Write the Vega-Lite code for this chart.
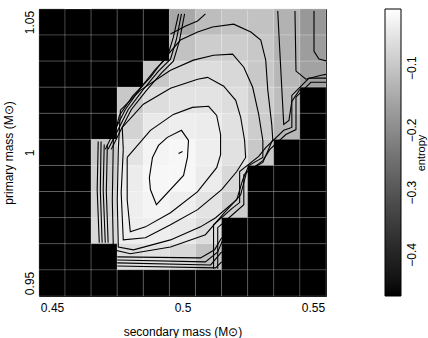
{
"$schema": "https://vega.github.io/schema/vega-lite/v6.json",
"width": 287, "height": 287,
"autosize": {"type": "none"},
"padding": {"left": 39, "top": 9, "right": 102, "bottom": 42},
"config": {"view": {"stroke": "#000", "strokeWidth": 1}, "font": "Liberation Sans"},
"datasets": {
"grid": [
{"m2":0.45,"m1":1.05,"entropy":-0.466},{"m2":0.46,"m1":1.05,"entropy":-0.466},{"m2":0.47,"m1":1.05,"entropy":-0.466},{"m2":0.48,"m1":1.05,"entropy":-0.466},{"m2":0.49,"m1":1.05,"entropy":-0.466},{"m2":0.5,"m1":1.05,"entropy":-0.150},{"m2":0.51,"m1":1.05,"entropy":-0.113},{"m2":0.52,"m1":1.05,"entropy":-0.104},{"m2":0.53,"m1":1.05,"entropy":-0.104},{"m2":0.54,"m1":1.05,"entropy":-0.132},{"m2":0.55,"m1":1.05,"entropy":-0.177},
{"m2":0.45,"m1":1.04,"entropy":-0.466},{"m2":0.46,"m1":1.04,"entropy":-0.466},{"m2":0.47,"m1":1.04,"entropy":-0.466},{"m2":0.48,"m1":1.04,"entropy":-0.466},{"m2":0.49,"m1":1.04,"entropy":-0.466},{"m2":0.5,"m1":1.04,"entropy":-0.104},{"m2":0.51,"m1":1.04,"entropy":-0.086},{"m2":0.52,"m1":1.04,"entropy":-0.086},{"m2":0.53,"m1":1.04,"entropy":-0.095},{"m2":0.54,"m1":1.04,"entropy":-0.132},{"m2":0.55,"m1":1.04,"entropy":-0.168},
{"m2":0.45,"m1":1.03,"entropy":-0.466},{"m2":0.46,"m1":1.03,"entropy":-0.466},{"m2":0.47,"m1":1.03,"entropy":-0.466},{"m2":0.48,"m1":1.03,"entropy":-0.466},{"m2":0.49,"m1":1.03,"entropy":-0.095},{"m2":0.5,"m1":1.03,"entropy":-0.068},{"m2":0.51,"m1":1.03,"entropy":-0.059},{"m2":0.52,"m1":1.03,"entropy":-0.068},{"m2":0.53,"m1":1.03,"entropy":-0.095},{"m2":0.54,"m1":1.03,"entropy":-0.123},{"m2":0.55,"m1":1.03,"entropy":-0.159},
{"m2":0.45,"m1":1.02,"entropy":-0.466},{"m2":0.46,"m1":1.02,"entropy":-0.466},{"m2":0.47,"m1":1.02,"entropy":-0.466},{"m2":0.48,"m1":1.02,"entropy":-0.095},{"m2":0.49,"m1":1.02,"entropy":-0.059},{"m2":0.5,"m1":1.02,"entropy":-0.050},{"m2":0.51,"m1":1.02,"entropy":-0.050},{"m2":0.52,"m1":1.02,"entropy":-0.059},{"m2":0.53,"m1":1.02,"entropy":-0.086},{"m2":0.54,"m1":1.02,"entropy":-0.113},{"m2":0.55,"m1":1.02,"entropy":-0.466},
{"m2":0.45,"m1":1.01,"entropy":-0.466},{"m2":0.46,"m1":1.01,"entropy":-0.466},{"m2":0.47,"m1":1.01,"entropy":-0.466},{"m2":0.48,"m1":1.01,"entropy":-0.077},{"m2":0.49,"m1":1.01,"entropy":-0.041},{"m2":0.5,"m1":1.01,"entropy":-0.032},{"m2":0.51,"m1":1.01,"entropy":-0.036},{"m2":0.52,"m1":1.01,"entropy":-0.054},{"m2":0.53,"m1":1.01,"entropy":-0.086},{"m2":0.54,"m1":1.01,"entropy":-0.123},{"m2":0.55,"m1":1.01,"entropy":-0.466},
{"m2":0.45,"m1":1.0,"entropy":-0.466},{"m2":0.46,"m1":1.0,"entropy":-0.466},{"m2":0.47,"m1":1.0,"entropy":-0.095},{"m2":0.48,"m1":1.0,"entropy":-0.050},{"m2":0.49,"m1":1.0,"entropy":-0.023},{"m2":0.5,"m1":1.0,"entropy":-0.018},{"m2":0.51,"m1":1.0,"entropy":-0.032},{"m2":0.52,"m1":1.0,"entropy":-0.054},{"m2":0.53,"m1":1.0,"entropy":-0.095},{"m2":0.54,"m1":1.0,"entropy":-0.466},{"m2":0.55,"m1":1.0,"entropy":-0.466},
{"m2":0.45,"m1":0.99,"entropy":-0.466},{"m2":0.46,"m1":0.99,"entropy":-0.466},{"m2":0.47,"m1":0.99,"entropy":-0.086},{"m2":0.48,"m1":0.99,"entropy":-0.036},{"m2":0.49,"m1":0.99,"entropy":-0.018},{"m2":0.5,"m1":0.99,"entropy":-0.018},{"m2":0.51,"m1":0.99,"entropy":-0.036},{"m2":0.52,"m1":0.99,"entropy":-0.068},{"m2":0.53,"m1":0.99,"entropy":-0.466},{"m2":0.54,"m1":0.99,"entropy":-0.466},{"m2":0.55,"m1":0.99,"entropy":-0.466},
{"m2":0.45,"m1":0.98,"entropy":-0.466},{"m2":0.46,"m1":0.98,"entropy":-0.466},{"m2":0.47,"m1":0.98,"entropy":-0.077},{"m2":0.48,"m1":0.98,"entropy":-0.032},{"m2":0.49,"m1":0.98,"entropy":-0.023},{"m2":0.5,"m1":0.98,"entropy":-0.032},{"m2":0.51,"m1":0.98,"entropy":-0.050},{"m2":0.52,"m1":0.98,"entropy":-0.086},{"m2":0.53,"m1":0.98,"entropy":-0.466},{"m2":0.54,"m1":0.98,"entropy":-0.466},{"m2":0.55,"m1":0.98,"entropy":-0.466},
{"m2":0.45,"m1":0.97,"entropy":-0.466},{"m2":0.46,"m1":0.97,"entropy":-0.466},{"m2":0.47,"m1":0.97,"entropy":-0.068},{"m2":0.48,"m1":0.97,"entropy":-0.032},{"m2":0.49,"m1":0.97,"entropy":-0.032},{"m2":0.5,"m1":0.97,"entropy":-0.041},{"m2":0.51,"m1":0.97,"entropy":-0.059},{"m2":0.52,"m1":0.97,"entropy":-0.466},{"m2":0.53,"m1":0.97,"entropy":-0.466},{"m2":0.54,"m1":0.97,"entropy":-0.466},{"m2":0.55,"m1":0.97,"entropy":-0.466},
{"m2":0.45,"m1":0.96,"entropy":-0.466},{"m2":0.46,"m1":0.96,"entropy":-0.466},{"m2":0.47,"m1":0.96,"entropy":-0.466},{"m2":0.48,"m1":0.96,"entropy":-0.059},{"m2":0.49,"m1":0.96,"entropy":-0.054},{"m2":0.5,"m1":0.96,"entropy":-0.068},{"m2":0.51,"m1":0.96,"entropy":-0.104},{"m2":0.52,"m1":0.96,"entropy":-0.466},{"m2":0.53,"m1":0.96,"entropy":-0.466},{"m2":0.54,"m1":0.96,"entropy":-0.466},{"m2":0.55,"m1":0.96,"entropy":-0.466},
{"m2":0.45,"m1":0.95,"entropy":-0.466},{"m2":0.46,"m1":0.95,"entropy":-0.466},{"m2":0.47,"m1":0.95,"entropy":-0.466},{"m2":0.48,"m1":0.95,"entropy":-0.466},{"m2":0.49,"m1":0.95,"entropy":-0.466},{"m2":0.5,"m1":0.95,"entropy":-0.466},{"m2":0.51,"m1":0.95,"entropy":-0.466},{"m2":0.52,"m1":0.95,"entropy":-0.466},{"m2":0.53,"m1":0.95,"entropy":-0.466},{"m2":0.54,"m1":0.95,"entropy":-0.466},{"m2":0.55,"m1":0.95,"entropy":-0.466}
],
"contours": [
{"c":"C1","i":0,"m2":0.4885,"m1":0.9981},{"c":"C1","i":1,"m2":0.4908,"m1":1.0027},{"c":"C1","i":2,"m2":0.4942,"m1":1.0058},{"c":"C1","i":3,"m2":0.4996,"m1":1.0085},{"c":"C1","i":4,"m2":0.5023,"m1":1.0046},{"c":"C1","i":5,"m2":0.5019,"m1":0.9981},{"c":"C1","i":6,"m2":0.5004,"m1":0.9912},{"c":"C1","i":7,"m2":0.49,"m1":0.98},{"c":"C1","i":8,"m2":0.4877,"m1":0.9858},{"c":"C1","i":9,"m2":0.4873,"m1":0.9904},{"c":"C1","i":10,"m2":0.4885,"m1":0.9981},
{"c":"C2","i":0,"m2":0.4788,"m1":0.9981},{"c":"C2","i":1,"m2":0.4877,"m1":1.0085},{"c":"C2","i":2,"m2":0.4965,"m1":1.0146},{"c":"C2","i":3,"m2":0.5038,"m1":1.0173},{"c":"C2","i":4,"m2":0.51,"m1":1.0177},{"c":"C2","i":5,"m2":0.5131,"m1":1.0142},{"c":"C2","i":6,"m2":0.5146,"m1":1.0069},{"c":"C2","i":7,"m2":0.5146,"m1":0.9992},{"c":"C2","i":8,"m2":0.5131,"m1":0.9942},{"c":"C2","i":9,"m2":0.5058,"m1":0.985},{"c":"C2","i":10,"m2":0.4954,"m1":0.9769},{"c":"C2","i":11,"m2":0.4858,"m1":0.9715},{"c":"C2","i":12,"m2":0.48,"m1":0.9696},{"c":"C2","i":13,"m2":0.4788,"m1":0.9819},{"c":"C2","i":14,"m2":0.4788,"m1":0.9981},
{"c":"C3","i":0,"m2":0.4773,"m1":1.0012},{"c":"C3","i":1,"m2":0.4769,"m1":1.0096},{"c":"C3","i":2,"m2":0.485,"m1":1.0185},{"c":"C3","i":3,"m2":0.4954,"m1":1.0246},{"c":"C3","i":4,"m2":0.5058,"m1":1.0281},{"c":"C3","i":5,"m2":0.5096,"m1":1.0288},{"c":"C3","i":6,"m2":0.5158,"m1":1.0254},{"c":"C3","i":7,"m2":0.5204,"m1":1.02},{"c":"C3","i":8,"m2":0.5223,"m1":1.0135},{"c":"C3","i":9,"m2":0.5238,"m1":1.0046},{"c":"C3","i":10,"m2":0.5242,"m1":0.9981},{"c":"C3","i":11,"m2":0.5208,"m1":0.9927},{"c":"C3","i":12,"m2":0.515,"m1":0.9858},{"c":"C3","i":13,"m2":0.5058,"m1":0.9781},{"c":"C3","i":14,"m2":0.4954,"m1":0.9723},{"c":"C3","i":15,"m2":0.4858,"m1":0.9673},{"c":"C3","i":16,"m2":0.4773,"m1":0.9665},{"c":"C3","i":17,"m2":0.4765,"m1":0.9846},{"c":"C3","i":18,"m2":0.4773,"m1":1.0012},
{"c":"C4","i":0,"m2":0.4754,"m1":1.0012},{"c":"C4","i":1,"m2":0.4762,"m1":1.0162},{"c":"C4","i":2,"m2":0.4838,"m1":1.0238},{"c":"C4","i":3,"m2":0.4954,"m1":1.0315},{"c":"C4","i":4,"m2":0.5042,"m1":1.0354},{"c":"C4","i":5,"m2":0.5119,"m1":1.0373},{"c":"C4","i":6,"m2":0.5192,"m1":1.0377},{"c":"C4","i":7,"m2":0.5235,"m1":1.0327},{"c":"C4","i":8,"m2":0.5269,"m1":1.025},{"c":"C4","i":9,"m2":0.5292,"m1":1.0146},{"c":"C4","i":10,"m2":0.5308,"m1":1.0046},{"c":"C4","i":11,"m2":0.5308,"m1":0.9981},{"c":"C4","i":12,"m2":0.5254,"m1":0.995},{"c":"C4","i":13,"m2":0.5231,"m1":0.9896},{"c":"C4","i":14,"m2":0.5208,"m1":0.9819},{"c":"C4","i":15,"m2":0.5127,"m1":0.975},{"c":"C4","i":16,"m2":0.5069,"m1":0.9715},{"c":"C4","i":17,"m2":0.4954,"m1":0.9665},{"c":"C4","i":18,"m2":0.4812,"m1":0.9627},{"c":"C4","i":19,"m2":0.4754,"m1":0.9638},{"c":"C4","i":20,"m2":0.475,"m1":0.9819},{"c":"C4","i":21,"m2":0.4754,"m1":1.0012},
{"c":"C5","i":0,"m2":0.4735,"m1":1.005},{"c":"C5","i":1,"m2":0.4758,"m1":1.0142},{"c":"C5","i":2,"m2":0.4808,"m1":1.0215},{"c":"C5","i":3,"m2":0.4877,"m1":1.0288},{"c":"C5","i":4,"m2":0.4935,"m1":1.0365},{"c":"C5","i":5,"m2":0.4992,"m1":1.0431},{"c":"C5","i":6,"m2":0.5058,"m1":1.0462},{"c":"C5","i":7,"m2":0.5115,"m1":1.0481},{"c":"C5","i":8,"m2":0.5196,"m1":1.0492},{"c":"C5","i":9,"m2":0.5262,"m1":1.0462},{"c":"C5","i":10,"m2":0.53,"m1":1.0431},{"c":"C5","i":11,"m2":0.5319,"m1":1.0354},{"c":"C5","i":12,"m2":0.5327,"m1":1.0238},{"c":"C5","i":13,"m2":0.5342,"m1":1.0108},{"c":"C5","i":14,"m2":0.5346,"m1":1.005},{"c":"C5","i":15,"m2":0.5308,"m1":0.9962},{"c":"C5","i":16,"m2":0.5246,"m1":0.9927},{"c":"C5","i":17,"m2":0.5223,"m1":0.9838},{"c":"C5","i":18,"m2":0.5154,"m1":0.9762},{"c":"C5","i":19,"m2":0.5088,"m1":0.9685},{"c":"C5","i":20,"m2":0.4954,"m1":0.9638},{"c":"C5","i":21,"m2":0.48,"m1":0.9612},{"c":"C5","i":22,"m2":0.4735,"m1":0.9627},{"c":"C5","i":23,"m2":0.4731,"m1":0.9819},{"c":"C5","i":24,"m2":0.4735,"m1":1.005},
{"c":"V1","i":0,"m2":0.5365,"m1":1.0542},{"c":"V1","i":1,"m2":0.5377,"m1":1.0312},{"c":"V1","i":2,"m2":0.5388,"m1":1.0108},{"c":"V1","i":3,"m2":0.5408,"m1":1.0123},{"c":"V1","i":4,"m2":0.5419,"m1":1.0196},{"c":"V1","i":5,"m2":0.545,"m1":1.0242},
{"c":"V2","i":0,"m2":0.5431,"m1":1.0542},{"c":"V2","i":1,"m2":0.5435,"m1":1.0312},{"c":"V2","i":2,"m2":0.5473,"m1":1.0281},{"c":"V2","i":3,"m2":0.5531,"m1":1.0296},{"c":"V2","i":4,"m2":0.5554,"m1":1.03},
{"c":"V3","i":0,"m2":0.5504,"m1":1.0542},{"c":"V3","i":1,"m2":0.5504,"m1":1.0388},{"c":"V3","i":2,"m2":0.5523,"m1":1.0358},{"c":"V3","i":3,"m2":0.5554,"m1":1.035},
{"c":"T1","i":0,"m2":0.4954,"m1":1.0454},{"c":"T1","i":1,"m2":0.5012,"m1":1.0485},{"c":"T1","i":2,"m2":0.5058,"m1":1.0504},{"c":"T1","i":3,"m2":0.5088,"m1":1.0531},
{"c":"H1","i":0,"m2":0.4715,"m1":1.0012},{"c":"H1","i":1,"m2":0.4754,"m1":1.0089},{"c":"H1","i":2,"m2":0.4792,"m1":1.0165},{"c":"H1","i":3,"m2":0.485,"m1":1.0242},{"c":"H1","i":4,"m2":0.4908,"m1":1.0312},{"c":"H1","i":5,"m2":0.4954,"m1":1.0358},{"c":"H1","i":6,"m2":0.4977,"m1":1.0435},{"c":"H1","i":7,"m2":0.4996,"m1":1.0531},
{"c":"H2","i":0,"m2":0.4727,"m1":1.0012},{"c":"H2","i":1,"m2":0.4765,"m1":1.0089},{"c":"H2","i":2,"m2":0.4804,"m1":1.0165},{"c":"H2","i":3,"m2":0.4862,"m1":1.0238},{"c":"H2","i":4,"m2":0.4919,"m1":1.0304},{"c":"H2","i":5,"m2":0.4965,"m1":1.035},{"c":"H2","i":6,"m2":0.4988,"m1":1.0427},{"c":"H2","i":7,"m2":0.5008,"m1":1.0531},
{"c":"H3","i":0,"m2":0.4704,"m1":1.0012},{"c":"H3","i":1,"m2":0.4742,"m1":1.0089},{"c":"H3","i":2,"m2":0.4781,"m1":1.0165},{"c":"H3","i":3,"m2":0.4838,"m1":1.0246},{"c":"H3","i":4,"m2":0.4896,"m1":1.0319},{"c":"H3","i":5,"m2":0.4942,"m1":1.0365},{"c":"H3","i":6,"m2":0.4965,"m1":1.0442},{"c":"H3","i":7,"m2":0.4985,"m1":1.0531},
{"c":"L1","i":0,"m2":0.4677,"m1":1.0042},{"c":"L1","i":1,"m2":0.4673,"m1":0.9858},{"c":"L1","i":2,"m2":0.4681,"m1":0.9654},
{"c":"L2","i":0,"m2":0.4688,"m1":1.0042},{"c":"L2","i":1,"m2":0.4685,"m1":0.9858},{"c":"L2","i":2,"m2":0.4692,"m1":0.9654},
{"c":"L3","i":0,"m2":0.47,"m1":1.0031},{"c":"L3","i":1,"m2":0.4696,"m1":0.9858},{"c":"L3","i":2,"m2":0.4704,"m1":0.9654},
{"c":"L4","i":0,"m2":0.4712,"m1":1.0031},{"c":"L4","i":1,"m2":0.4708,"m1":0.985},{"c":"L4","i":2,"m2":0.4715,"m1":0.9654},
{"c":"B1","i":0,"m2":0.475,"m1":0.96},{"c":"B1","i":1,"m2":0.5069,"m1":0.9596},{"c":"B1","i":2,"m2":0.5123,"m1":0.9627},{"c":"B1","i":3,"m2":0.515,"m1":0.9673},
{"c":"B2","i":0,"m2":0.475,"m1":0.9588},{"c":"B2","i":1,"m2":0.5088,"m1":0.9581},{"c":"B2","i":2,"m2":0.5135,"m1":0.9619},{"c":"B2","i":3,"m2":0.5158,"m1":0.9673},
{"c":"B3","i":0,"m2":0.475,"m1":0.9577},{"c":"B3","i":1,"m2":0.5108,"m1":0.9569},{"c":"B3","i":2,"m2":0.515,"m1":0.9619},
{"c":"B4","i":0,"m2":0.475,"m1":0.9565},{"c":"B4","i":1,"m2":0.5127,"m1":0.9558},{"c":"B4","i":2,"m2":0.515,"m1":0.9581},
{"c":"R1","i":0,"m2":0.5554,"m1":1.0269},{"c":"R1","i":1,"m2":0.5492,"m1":1.0269},{"c":"R1","i":2,"m2":0.5435,"m1":1.0212},{"c":"R1","i":3,"m2":0.5435,"m1":1.0088},{"c":"R1","i":4,"m2":0.5396,"m1":1.0069},{"c":"R1","i":5,"m2":0.5335,"m1":1.0012},{"c":"R1","i":6,"m2":0.5308,"m1":0.9969},{"c":"R1","i":7,"m2":0.5235,"m1":0.9915},{"c":"R1","i":8,"m2":0.5235,"m1":0.98},{"c":"R1","i":9,"m2":0.52,"m1":0.9769},{"c":"R1","i":10,"m2":0.5135,"m1":0.9712},{"c":"R1","i":11,"m2":0.5135,"m1":0.9554},
{"c":"R2","i":0,"m2":0.5554,"m1":1.0285},{"c":"R2","i":1,"m2":0.5485,"m1":1.0285},{"c":"R2","i":2,"m2":0.5419,"m1":1.0219},{"c":"R2","i":3,"m2":0.5419,"m1":1.0096},{"c":"R2","i":4,"m2":0.5388,"m1":1.0085},{"c":"R2","i":5,"m2":0.5319,"m1":1.0019},{"c":"R2","i":6,"m2":0.5292,"m1":0.9985},{"c":"R2","i":7,"m2":0.5219,"m1":0.9927},{"c":"R2","i":8,"m2":0.5219,"m1":0.9808},{"c":"R2","i":9,"m2":0.5189,"m1":0.9785},{"c":"R2","i":10,"m2":0.5119,"m1":0.9723},{"c":"R2","i":11,"m2":0.5119,"m1":0.9554},
{"c":"P","i":0,"m2":0.4985,"m1":0.9996},{"c":"P","i":1,"m2":0.5,"m1":1.0004}
]
},
"layer": [
{
"data": {"name": "grid"},
"mark": {"type": "rect", "width": 26.3, "height": 26.3, "stroke": "#ffffff", "strokeOpacity": 0.22, "strokeWidth": 1},
"encoding": {
"x": {"field": "m2", "type": "quantitative", "scale": {"domain": [0.445, 0.555], "nice": false, "zero": false},
 "axis": {"orient": "bottom", "values": [0.45, 0.5, 0.55], "format": "~g", "ticks": false, "tickSize": 0, "domain": false, "grid": false, "labelFontSize": 12, "labelPadding": 6, "labelColor": "#000", "labelFlush": false, "title": "secondary mass (M⊙)", "titleFontSize": 12, "titleFontWeight": "normal", "titleColor": "#000", "titlePadding": 13}},
"y": {"field": "m1", "type": "quantitative", "scale": {"domain": [0.945, 1.055], "nice": false, "zero": false},
 "axis": {"orient": "left", "values": [0.95, 1, 1.05], "format": "~g", "ticks": false, "tickSize": 0, "domain": false, "grid": false, "labelFontSize": 12, "labelPadding": 6, "labelAngle": -90, "labelAlign": "center", "labelBaseline": "alphabetic", "labelColor": "#000", "labelFlush": false, "title": "primary mass (M⊙)", "titleFontSize": 12, "titleFontWeight": "normal", "titleColor": "#000", "titlePadding": 8}},
"color": {"field": "entropy", "type": "quantitative",
 "scale": {"domain": [-0.466, -0.005], "range": ["#000000", "#ffffff"], "clamp": true},
 "legend": {"orient": "none", "legendX": 346, "legendY": 0, "direction": "vertical", "gradientLength": 287, "gradientThickness": 16, "gradientStrokeColor": "#000", "gradientStrokeWidth": 1, "values": [-0.4, -0.3, -0.2, -0.1], "labelFontSize": 12, "labelColor": "#000", "labelOffset": 6, "title": "entropy", "titleFontSize": 11, "titleFontWeight": "normal", "titleColor": "#000", "titleOrient": "right", "titleAngle": -90, "titleAnchor": "middle", "titleBaseline": "top", "titlePadding": -2,
  "encode": {"labels": {"update": {"angle": {"value": -90}, "align": {"value": "center"}, "baseline": {"value": "top"}}}, "title": {"update": {"angle": {"value": -90}, "baseline": {"value": "top"}}}}}}
}
},
{
"data": {"name": "contours"},
"mark": {"type": "line", "color": "#000", "strokeWidth": 1.1, "clip": true},
"encoding": {
"x": {"field": "m2", "type": "quantitative", "axis": {"orient": "top", "values": [0.45,0.46,0.47,0.48,0.49,0.5,0.51,0.52,0.53,0.54,0.55], "labels": false, "domain": false, "grid": false, "ticks": true, "tickSize": -5, "tickColor": "#000", "title": null}},
"y": {"field": "m1", "type": "quantitative", "axis": {"orient": "right", "values": [0.95,0.96,0.97,0.98,0.99,1,1.01,1.02,1.03,1.04,1.05], "labels": false, "domain": false, "grid": false, "ticks": true, "tickSize": -5, "tickColor": "#000", "title": null}},
"detail": {"field": "c"},
"order": {"field": "i", "type": "quantitative"}
}
}
],
"resolve": {"axis": {"x": "independent", "y": "independent"}}
}
